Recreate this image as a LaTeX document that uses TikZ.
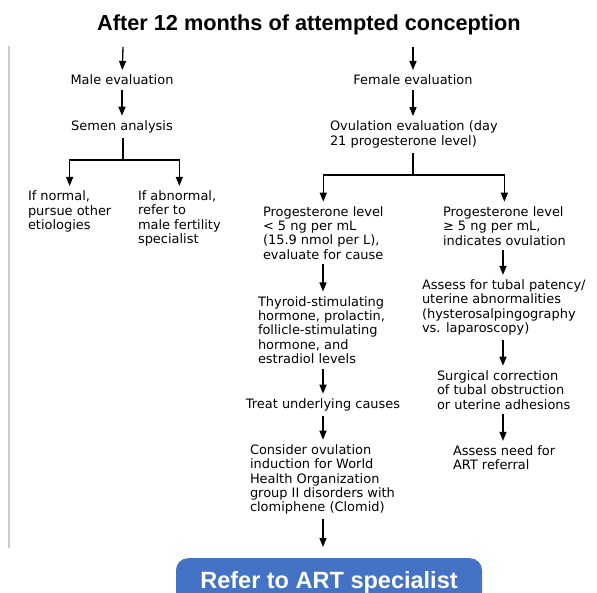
\documentclass[tikz,border=0pt]{standalone}
\usepackage{fontspec}
\setmainfont{DejaVu Sans}
\newfontfamily\titlefont{Liberation Sans}
\usetikzlibrary{arrows.meta}
\definecolor{artblue}{RGB}{68,114,196}

\begin{document}
\begin{tikzpicture}[x=1bp,y=-1bp,
  txt/.style={inner sep=0pt,outer xsep=0pt,outer ysep=5bp,align=left,font=\fontsize{13}{14.3}\selectfont},
  arr/.style={line width=1.3bp,-{Triangle[width=7bp,length=9bp]}},
  ln/.style={line width=1.3bp}]
\useasboundingbox (0,0) rectangle (597,593);
\draw[black!20,line width=2bp] (9,46) -- (9,548);
\node[font=\titlefont\bfseries\fontsize{21.8}{26}\selectfont] (title) at (309,25) {After 12 months of attempted conception};
\coordinate (mtop) at (123,47);
\coordinate (ftop) at (413,47);
\coordinate (msplit) at (123,160);
\coordinate (fsplit) at (413,175);
\coordinate (colL) at (323,0);
\coordinate (colR) at (503,0);

% male side
\node[txt] (male) at (122,80) {Male evaluation};
\node[txt] (semen) at (122,127) {Semen analysis};
\node[txt,anchor=west] (normal) at (28,211.5) {If normal,\\pursue other\\etiologies};
\node[txt,anchor=west] (abnormal) at (138,218.5) {If abnormal,\\refer to\\male fertility\\specialist};
\draw[arr] (mtop) -- (male);
\draw[arr] (male) -- (semen);
\draw[ln] (semen.south -| msplit) -- (msplit);
\draw[arr] (msplit) -| (normal.north);
\draw[arr] (msplit) -| (abnormal.north);

% female side
\node[txt] (female) at (413,80) {Female evaluation};
\node[txt,anchor=west] (ovul) at (330,134.5) {Ovulation evaluation (day\\21 progesterone level)};
\node[txt,anchor=west] (prlow) at (263,233) {Progesterone level\\< 5 ng per mL\\(15.9 nmol per L),\\evaluate for cause};
\node[txt,anchor=west] (prhigh) at (443,226) {Progesterone level\\≥ 5 ng per mL,\\indicates ovulation};
\draw[arr] (ftop) -- (female);
\draw[arr] (female.south) -- (female.south |- ovul.north);
\draw[ln] (ovul.south -| fsplit) -- (fsplit);
\draw[arr] (fsplit) -| (prlow.north);
\draw[arr] (fsplit) -| (prhigh.north);

% progesterone low
\node[txt,anchor=west] (tsh) at (258,330) {Thyroid-stimulating\\hormone, prolactin,\\follicle-stimulating\\hormone, and\\estradiol levels};
\node[txt] (treat) at (323,405) {Treat underlying causes};
\node[txt,anchor=west] (clomid) at (250,479.5) {Consider ovulation\\induction for World\\Health Organization\\group II disorders with\\clomiphene (Clomid)};
\draw[arr] (prlow.south -| colL) -- (tsh.north -| colL);
\draw[arr] (tsh.south -| colL) -- (treat.north -| colL);
\draw[arr] (treat.south -| colL) -- (clomid.north -| colL);

% progesterone high
\node[txt,anchor=west] (tubal) at (422,307.5) {Assess for tubal patency/\\uterine abnormalities\\(hysterosalpingography\\vs. laparoscopy)};
\node[txt,anchor=west] (surg) at (437,390) {Surgical correction\\of tubal obstruction\\or uterine adhesions};
\node[txt,anchor=west] (need) at (453,458) {Assess need for\\ART referral};
\draw[arr] (prhigh.south -| colR) -- (tubal.north -| colR);
\draw[arr] (tubal.south -| colR) -- (surg.north -| colR);
\draw[arr] (surg.south -| colR) -- (need.north -| colR);

% referral
\begin{scope}
\clip (0,0) rectangle (597,593);
\node[fill=artblue,rounded corners=12bp,minimum width=306bp,anchor=north,inner ysep=13bp,text=white,font=\titlefont\bfseries\fontsize{23.6}{28}\selectfont] (art) at (329,558) {Refer to ART specialist};
\end{scope}
\draw[arr,shorten >=11bp] (clomid.south -| colL) -- (art.north -| colL);
\end{tikzpicture}
\end{document}
